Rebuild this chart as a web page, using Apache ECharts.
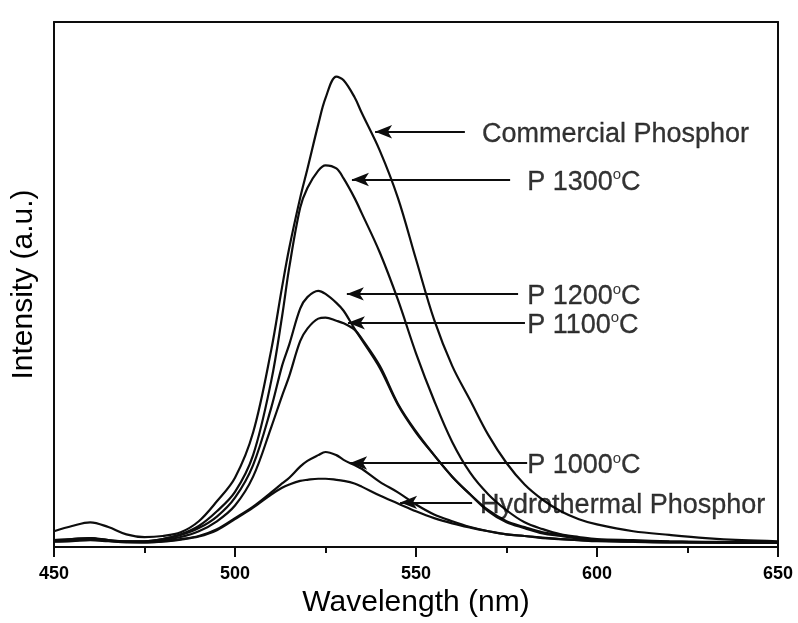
<!DOCTYPE html>
<html>
<head>
<meta charset="utf-8">
<title>Emission spectra</title>
<script src="https://cdn.jsdelivr.net/npm/echarts@6/dist/echarts.min.js"></script>
<style>
  html, body { margin: 0; padding: 0; background: #fff; }
  #chart { width: 798px; height: 623px; }
</style>
</head>
<body>
<div id="chart"></div>
<script>
// Emission wavelength samples (nm)
const wavelengths = [450, 455, 460, 465, 470, 475, 480, 485, 490, 495,
                     500, 505, 510, 513, 515, 518, 520, 523, 525, 528,
                     530, 533, 535, 540, 545, 550, 555, 560, 565, 570,
                     575, 580, 585, 590, 595, 600, 610, 620, 630, 640, 650];

// Intensities (a.u.) for each sample
const commercial = [3.0, 4.0, 4.7, 3.8, 2.4, 1.9, 2.1, 2.8, 4.9, 8.7,
                    13.2, 21.8, 37.5, 49.5, 57.0, 66.5, 72.0, 80.5, 85.5, 89.6,
                    88.9, 85.7, 82.7, 75.5, 66.5, 54.8, 43.3, 34.5, 27.9, 21.3,
                    16.0, 11.9, 9.0, 6.8, 5.3, 4.3, 3.0, 2.3, 1.7, 1.3, 1.1];
const p1300 = [1.3, 1.5, 1.7, 1.3, 1.1, 1.1, 1.5, 2.4, 4.0, 6.8,
               10.5, 17.5, 31.6, 43.9, 53.3, 64.6, 68.4, 71.7, 72.7, 72.1,
               70.2, 66.5, 63.6, 56.1, 47.1, 36.9, 27.9, 20.0, 14.1, 10.0,
               7.0, 4.7, 3.4, 2.4, 1.9, 1.5, 1.3, 1.1, 1.0, 0.9, 0.9];
const p1200 = [1.3, 1.5, 1.7, 1.3, 1.1, 1.1, 1.5, 2.3, 3.6, 5.8,
               9.4, 15.6, 26.5, 34.5, 38.6, 45.4, 47.6, 48.8, 48.2, 46.5,
               45.0, 41.6, 39.5, 34.1, 27.1, 21.8, 17.5, 13.4, 10.0, 7.0,
               4.9, 3.8, 2.8, 2.3, 1.7, 1.3, 1.1, 1.0, 0.9, 0.9, 0.9];
const p1100 = [1.1, 1.3, 1.5, 1.2, 1.0, 1.0, 1.3, 1.9, 3.0, 4.9,
               7.9, 13.4, 22.8, 28.8, 32.6, 39.2, 41.6, 43.5, 43.7, 43.1,
               42.6, 41.4, 39.7, 34.5, 27.3, 22.0, 17.5, 13.4, 10.0, 6.8,
               4.7, 3.6, 2.6, 2.1, 1.6, 1.3, 1.1, 1.0, 0.9, 0.9, 0.9];
const p1000 = [1.1, 1.2, 1.5, 1.2, 1.0, 0.9, 1.1, 1.5, 2.1, 3.4,
               5.5, 7.7, 10.4, 12.1, 13.2, 15.3, 16.4, 17.5, 18.1, 17.5,
               16.6, 15.6, 14.9, 12.4, 10.4, 8.1, 6.2, 4.9, 3.8, 3.0,
               2.4, 2.1, 1.7, 1.5, 1.3, 1.1, 1.0, 0.9, 0.9, 0.9, 0.9];
const hydrothermal = [1.0, 1.1, 1.3, 1.1, 0.9, 0.9, 1.0, 1.4, 2.0, 3.2,
                      5.3, 7.5, 10.0, 11.3, 11.9, 12.6, 12.8, 13.0, 13.0, 12.8,
                      12.6, 12.1, 11.5, 9.8, 8.3, 6.8, 5.5, 4.5, 3.7, 3.0,
                      2.4, 2.1, 1.8, 1.5, 1.3, 1.2, 1.0, 0.9, 0.9, 0.8, 0.8];

// Curve labels with their pointer arrows (data coordinates)
const labelTexts = ['Commercial Phosphor', 'P 1300°C', 'P 1200°C', 'P 1100°C', 'P 1000°C', 'Hydrothermal Phosphor'];
const labelX     = [568.2, 580.7, 580.7, 580.7, 580.7, 567.7];
const arrowY     = [79.1, 70.0, 48.2, 42.7, 16.0, 8.5];
const arrowTail  = [563.5, 576.0, 578.2, 580.1, 580.7, 565.5];
const arrowTip   = [538.7, 532.3, 530.9, 531.2, 531.8, 545.6];

const xTicks = [450, 500, 550, 600, 650];

const FONT = '"Liberation Sans", Arial, Helvetica, sans-serif';
const INK = '#000';

const spectra = [commercial, p1300, p1200, p1100, p1000, hydrothermal];

function pairs(ys) {
  return wavelengths.map((x, i) => [x, ys[i]]);
}

// Turn "°C" into a raised small "o" followed by C
function richLabel(text) {
  if (text.indexOf('°C') >= 0) {
    return '{t|' + text.replace('°C', '') + '}{s|o}{t|C}';
  }
  return '{t|' + text + '}';
}

const curveSeries = spectra.map((ys, i) => ({
  type: 'line',
  name: labelTexts[i],
  data: pairs(ys),
  showSymbol: false,
  smooth: 0.35,
  lineStyle: { color: '#0d0d0d', width: 2.2 },
  emphasis: { disabled: true },
  silent: true,
  z: 2
}));

// Text labels placed in data space
const labelSeries = {
  type: 'scatter',
  symbolSize: 0,
  silent: true,
  data: labelTexts.map((t, i) => ({ value: [labelX[i], arrowY[i]], text: t })),
  label: {
    show: true,
    position: 'right',
    distance: 0,
    offset: [0, 3],
    color: INK,
    formatter: p => richLabel(p.data.text),
    rich: {
      t: { fontFamily: FONT, fontSize: 27, color: INK, lineHeight: 30,
           textBorderColor: INK, textBorderWidth: 0.3 },
      s: { fontFamily: FONT, fontSize: 15, color: INK, lineHeight: 30, verticalAlign: 'top' }
    }
  },
  z: 3
};

// Pointer arrows from each label to its curve
const arrowSeries = {
  type: 'line',
  data: [],
  silent: true,
  markLine: {
    silent: true,
    animation: false,
    precision: 4,
    lineStyle: { color: '#0d0d0d', width: 2, type: 'solid' },
    label: { show: false },
    emphasis: { disabled: true },
    data: labelTexts.map((t, i) => [
      { coord: [arrowTail[i], arrowY[i]], symbol: 'none' },
      { coord: [arrowTip[i], arrowY[i]], symbol: 'arrow', symbolSize: [10, 17] }
    ])
  },
  z: 3
};

const chart = echarts.init(document.getElementById('chart'), null, { renderer: 'canvas' });

chart.setOption({
  animation: false,
  backgroundColor: '#fff',
  grid: { left: 54, right: 20, top: 22, bottom: 70, containLabel: false },
  xAxis: [{
    type: 'value',
    min: 450,
    max: 650,
    interval: 50,
    name: 'Wavelength (nm)',
    nameLocation: 'middle',
    nameGap: 41,
    nameTextStyle: { fontFamily: FONT, fontSize: 30, color: INK },
    axisLine: { show: true, onZero: false, lineStyle: { color: '#0d0d0d', width: 2 } },
    axisTick: { show: true, inside: false, length: 10, lineStyle: { color: '#0d0d0d', width: 2 } },
    minorTick: { show: true, splitNumber: 2, length: 6, lineStyle: { color: '#0d0d0d', width: 2 } },
    axisLabel: {
      margin: 18,
      fontFamily: FONT, fontSize: 18, fontWeight: 'bold', color: INK,
      formatter: v => (xTicks.indexOf(v) >= 0 ? String(v) : '')
    },
    splitLine: { show: false }
  }, {
    type: 'value',
    position: 'top',
    min: 450,
    max: 650,
    axisLine: { show: true, onZero: false, lineStyle: { color: '#0d0d0d', width: 2 } },
    axisTick: { show: false },
    axisLabel: { show: false },
    splitLine: { show: false }
  }],
  yAxis: [{
    type: 'value',
    min: 0,
    max: 100,
    name: 'Intensity (a.u.)',
    nameLocation: 'middle',
    nameGap: 15,
    nameTextStyle: { fontFamily: FONT, fontSize: 30, color: INK },
    axisLine: { show: true, onZero: false, lineStyle: { color: '#0d0d0d', width: 2 } },
    axisTick: { show: false },
    axisLabel: { show: false },
    splitLine: { show: false }
  }, {
    type: 'value',
    position: 'right',
    min: 0,
    max: 100,
    axisLine: { show: true, onZero: false, lineStyle: { color: '#0d0d0d', width: 2 } },
    axisTick: { show: false },
    axisLabel: { show: false },
    splitLine: { show: false }
  }],
  series: curveSeries.concat([labelSeries, arrowSeries])
});
</script>
</body>
</html>
